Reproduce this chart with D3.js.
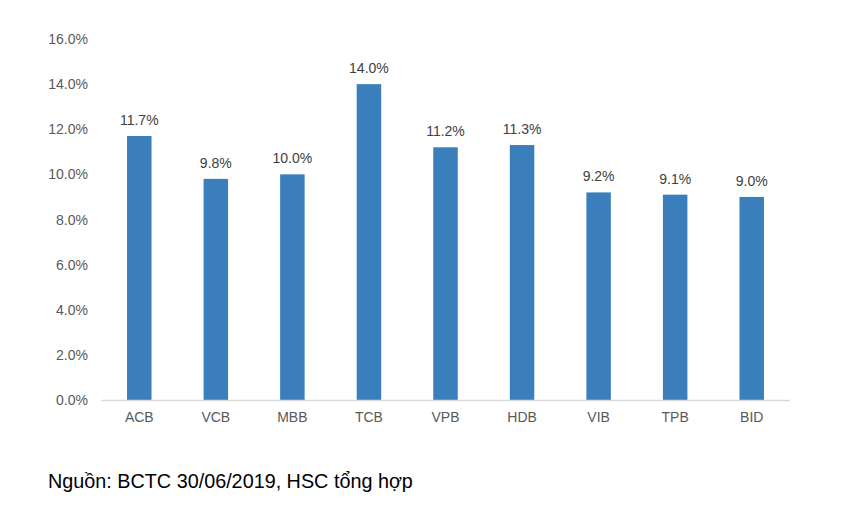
<!DOCTYPE html>
<html>
<head>
<meta charset="utf-8">
<script src="https://cdn.jsdelivr.net/npm/d3@7"></script>
<style>
  body { margin: 0; background: #fff; }
  svg text { font-family: "Liberation Sans", Arial, sans-serif; }
</style>
</head>
<body>
<div id="chart"></div>
<script>
// bank names and values (%)
var banks = ["ACB", "VCB", "MBB", "TCB", "VPB", "HDB", "VIB", "TPB", "BID"];
var values = [11.7, 9.8, 10.0, 14.0, 11.2, 11.3, 9.2, 9.1, 9.0];
var yTicks = [0, 2, 4, 6, 8, 10, 12, 14, 16];
var source = "Nguồn: BCTC 30/06/2019, HSC tổng hợp";

var W = 848, H = 523;
var plotLeft = 101, plotRight = 790, plotTop = 39, plotBottom = 400;

var svg = d3.select("#chart")
	.append("svg")
	.attr("width", W)
	.attr("height", H);

var x = d3.scaleBand()
	.domain(banks)
	.range([plotLeft, plotRight])
	.paddingInner(0.68)
	.paddingOuter(0.34);

var y = d3.scaleLinear()
	.domain([0, 16])
	.range([plotBottom, plotTop]);

// y tick labels
svg.selectAll(".ytick")
	.data(yTicks)
	.enter()
	.append("text")
		.attr("x", 88)
		.attr("y", function(d) { return y(d) + 5; })
		.attr("text-anchor", "end")
		.attr("font-size", 14)
		.attr("fill", "#595959")
		.text(function(d) { return d.toFixed(1) + "%"; });

// bars
svg.selectAll(".bar")
	.data(values)
	.enter()
	.append("rect")
		.attr("x", function(d, i) { return x(banks[i]); })
		.attr("y", function(d) { return y(d); })
		.attr("width", x.bandwidth())
		.attr("height", function(d) { return plotBottom - y(d); })
		.style("fill", "#3A7FBC");

// baseline
svg.append("line")
	.attr("x1", plotLeft).attr("x2", plotRight)
	.attr("y1", plotBottom + 0.5).attr("y2", plotBottom + 0.5)
	.attr("stroke", "#d9d9d9")
	.attr("stroke-width", 1.5);

// value labels
svg.selectAll(".val")
	.data(values)
	.enter()
	.append("text")
		.attr("x", function(d, i) { return x(banks[i]) + x.bandwidth() / 2; })
		.attr("y", function(d) { return y(d) - 11; })
		.attr("text-anchor", "middle")
		.attr("font-size", 14)
		.attr("fill", "#404040")
		.text(function(d) { return d.toFixed(1) + "%"; });

// category labels
svg.selectAll(".cat")
	.data(banks)
	.enter()
	.append("text")
		.attr("x", function(d) { return x(d) + x.bandwidth() / 2; })
		.attr("y", 422)
		.attr("text-anchor", "middle")
		.attr("font-size", 14)
		.attr("fill", "#595959")
		.text(function(d) { return d; });

// source note
svg.append("text")
	.attr("x", 48)
	.attr("y", 488)
	.attr("font-size", 19.8)
	.attr("fill", "#000")
	.text(source);
</script>
</body>
</html>
